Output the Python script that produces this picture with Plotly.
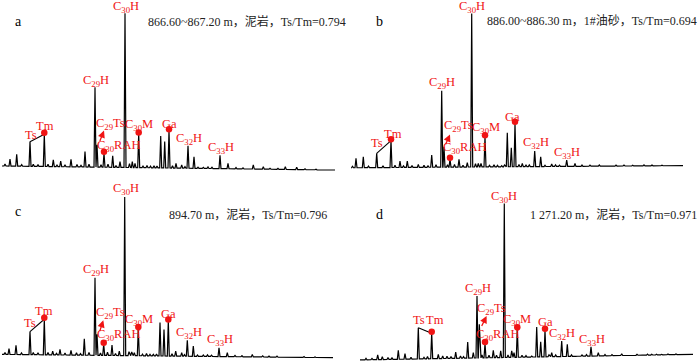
import plotly.graph_objects as go

# ---------------- data (relative retention, relative intensity % of C30H) ----------------
A_RT = [10.0, 16.7, 30.0, 33.3, 44.3, 53.3, 60.7, 71.0, 85.0, 95.0, 97.0, 104.0, 112.7, 120.0, 125.0, 132.3,
        135.0, 138.7, 154.0, 160.7, 164.7, 169.0, 176.0, 181.7, 188.0, 194.0, 203.3, 220.0, 228.0, 253.3,
        263.3, 285.3, 296.7]
A_INT = [6.0, 9.0, 17.2, 2.6, 21.9, 5.4, 4.7, 5.8, 10.8, 52.3, 15.1, 9.7, 8.0, 4.3, 100, 4.3,
         3.2, 22.2, 1.7, 20.9, 17.2, 24.3, 3.2, 2.2, 14.6, 7.5, 0.6, 8.4, 3.2, 2.2,
         1.1, 1.1, 0.6]
# minor baseline peaks (rt, height above baseline)
A_MIN_RT = [5.0, 21.7, 38.0, 48.0, 57.0, 65.0, 77.0, 81.0, 89.0, 101.0, 108.0, 116.0, 129.5, 143.0, 147.0,
            150.5, 157.0, 172.5, 185.0, 198.0, 208.0, 212.0, 236.0, 243.0, 270.0, 278.0, 305.0, 316.0, 326.0]
A_MIN_H = [1.2, 1.0, 1.3, 1.5, 1.0, 1.2, 1.5, 1.0, 1.8, 1.5, 2.0, 1.2, 2.5, 1.0, 1.5,
           1.0, 1.2, 1.5, 1.0, 0.8, 1.0, 0.8, 0.8, 0.7, 0.6, 0.6, 0.5, 0.4, 0.4]

B_RT = [6.0, 13.3, 26.7, 41.0, 50.0, 57.3, 68.3, 81.7, 91.7, 94.0, 100.0, 109.0, 117.3, 121.7, 128.3, 131.0,
        135.0, 151.7, 157.3, 161.3, 165.0, 172.3, 179.3, 184.7, 190.7, 201.7, 216.7, 225.0, 249.3, 260.0,
        282.7, 294.0]
B_INT = [5.4, 6.5, 8.7, 17.0, 3.7, 3.7, 1.5, 7.6, 49.6, 13.0, 4.8, 4.8, 2.6, 100, 2.2, 2.2,
         19.6, 0.7, 22.2, 12.4, 28.3, 2.2, 1.1, 10.2, 6.5, 1.7, 4.3, 2.2, 1.1, 0.4,
         1.0, 1.2]
B_MIN_RT = [2.5, 18.5, 33.0, 45.0, 53.5, 62.0, 74.0, 78.0, 86.0, 97.5, 104.5, 113.0, 125.5, 139.5, 144.0,
            147.5, 154.5, 169.0, 176.0, 195.0, 205.5, 209.5, 232.0, 240.0, 266.0, 274.0, 302.0, 312.0, 322.0]
B_MIN_H = [1.0, 1.0, 1.2, 1.4, 1.0, 1.2, 1.4, 1.0, 1.6, 1.5, 1.8, 1.2, 2.2, 1.0, 1.4,
           1.0, 1.2, 1.4, 1.0, 0.8, 1.0, 0.8, 0.8, 0.7, 0.6, 0.6, 0.5, 0.4, 0.4]

C_RT = [9.0, 16.0, 30.0, 33.3, 44.3, 52.7, 60.0, 71.0, 84.3, 95.0, 97.0, 103.7, 112.0, 119.3, 124.7, 131.7,
        134.3, 138.3, 153.3, 160.0, 164.0, 168.3, 175.7, 181.7, 187.3, 193.3, 203.3, 219.0, 227.3, 252.3,
        262.7, 285.0, 296.7]
C_INT = [4.0, 6.1, 14.8, 1.5, 22.6, 2.5, 3.6, 3.0, 10.3, 48.9, 13.1, 6.8, 6.3, 2.5, 100, 1.9,
         1.5, 16.7, 0.4, 20.5, 16.2, 21.5, 2.5, 1.5, 9.3, 5.7, 0.0, 4.6, 1.5, 0.4,
         -0.6, -1.1, -1.1]
C_MIN_RT = [5.0, 21.5, 38.0, 48.0, 56.5, 65.0, 76.5, 80.5, 89.0, 100.5, 107.5, 115.5, 129.0, 142.5, 146.5,
            150.0, 156.5, 172.0, 184.5, 197.5, 207.5, 211.5, 235.0, 242.0, 269.0, 277.0, 304.0, 315.0, 325.0]
C_MIN_H = [1.2, 1.0, 1.3, 1.5, 1.0, 1.2, 1.5, 1.0, 1.8, 1.5, 2.0, 1.2, 2.5, 1.0, 1.5,
           1.0, 1.2, 1.5, 1.0, 0.8, 1.0, 0.8, 0.8, 0.7, 0.6, 0.6, 0.5, 0.4, 0.4]

D_RT = [27.7, 32.3, 48.3, 55.0, 68.3, 81.7, 88.3, 92.7, 105.7, 117.7, 123.3, 127.0, 129.3, 135.0, 143.3, 150.7,
        154.3, 161.7, 164.0, 167.3, 181.7, 186.7, 190.7, 195.0, 201.7, 205.7, 211.7, 217.3, 226.7, 241.0,
        248.3, 271.7, 281.0, 293.3, 301.7, 311.7]
D_INT = [2.8, 1.7, 5.8, 3.6, 20.3, 16.7, 3.2, 2.1, 4.7, 11.1, 4.3, 40.7, 22.5, 10.1, 5.8, 5.4,
         100, 5.4, 4.3, 19.7, 2.1, 20.8, 11.3, 18.6, 4.3, 2.8, 11.8, 9.6, 2.1, 8.1,
         4.3, 3.6, 2.8, 2.6, 3.2, 3.2]
D_MIN_RT = [16.0, 22.0, 38.0, 42.0, 61.0, 74.0, 77.5, 97.0, 101.0, 110.5, 113.5, 132.0, 139.0, 146.5, 158.0,
            172.0, 176.0, 199.0, 221.5, 232.0, 236.5, 255.0, 262.0, 287.0, 297.5, 306.5, 318.0, 326.0, 335.0]
D_MIN_H = [1.0, 0.8, 1.2, 1.0, 1.2, 1.0, 1.4, 1.5, 1.2, 1.4, 1.0, 1.8, 1.6, 1.5, 1.5,
           1.2, 1.0, 1.2, 1.0, 0.8, 1.0, 0.8, 0.7, 0.6, 0.6, 0.5, 0.5, 0.4, 0.4]

# baseline (start rt, end rt, start level, end level)
A_BASE = [2.0, 335.0, 1.5, -1.1]
B_BASE = [2.0, 333.0, -0.7, 0.7]
C_BASE = [2.0, 333.0, 0.4, -1.7]
D_BASE = [10.0, 343.0, -0.4, 3.2]

PANEL_LETTERS = ["a", "b", "c", "d"]
PANEL_INFO = ["866.60~867.20 m，泥岩，Ts/Tm=0.794",
              "886.00~886.30 m，1#油砂，Ts/Tm=0.694",
              "894.70 m，泥岩，Ts/Tm=0.796",
              "1 271.20 m，泥岩，Ts/Tm=0.971"]

COMPOUNDS = ["Ts", "Tm", "C29H", "C29Ts", "C30RAH", "C30H", "C30M", "Ga", "C32H", "C33H"]
LABEL_TEXT = {"Ts": "Ts", "Tm": "Tm", "C29H": "C<sub>29</sub>H", "C29Ts": "C<sub>29</sub>Ts",
              "C30RAH": "C<sub>30</sub>RAH", "C30H": "C<sub>30</sub>H", "C30M": "C<sub>30</sub>M",
              "Ga": "Ga", "C32H": "C<sub>32</sub>H", "C33H": "C<sub>33</sub>H"}
# index of each identified compound in each panel's peak list
A_IDX = [2, 4, 9, 10, 11, 14, 17, 21, 24, 27]
B_IDX = [2, 3, 8, 9, 10, 13, 16, 20, 23, 26]
C_IDX = [2, 4, 9, 10, 11, 14, 17, 21, 24, 27]
D_IDX = [4, 5, 11, 12, 13, 16, 19, 23, 26, 29]

# ---------------- layout / style constants ----------------
W, H = 700, 362
CELL_W, CELL_H = 350, 181
RED = "#f01414"
SERIF = "Liberation Serif, Times New Roman, serif"
CJK = "Liberation Serif, Noto Sans CJK SC, serif"

# (baseline pixel in cell, pixels per intensity unit)
GEOM = [(168.3, 1.55), (166.7, 1.533), (174.0, 1.58), (178.3, 1.557)]
# label offsets (dx, dy) in px, per panel, in COMPOUNDS order
OFFS = [
    [(1, 6.7), (0.7, 8.3), (1, 6.3), (13, 20.7), (15.3, 7.7), (1, 6.0), (0.7, 8.7), (0.3, 6.7), (1, 7.0), (0.7, 7.7)],
    [(0.7, 10.7), (2.3, 6.3), (0, 7.3), (14.3, 20.7), (15, 11.7), (0.7, 6.5), (1, 9.0), (-2.7, 6.7), (1, 8.3), (0.7, 7.3)],
    [(0, 9.0), (0, 8.3), (1, 7.3), (13, 21.0), (15.7, 9.3), (1.3, 7.7), (1, 9.0), (0.3, 6.7), (1.3, 7.3), (1, 7.3)],
    [(0.7, 7.3), (3.2, 13.0), (0.7, 7.3), (11.7, 15.7), (13.3, 8.7), (0, 6.7), (0, 9.0), (0, 8.3), (0.7, 6.7), (0.7, 6.3)],
]
# arrow (tail dx, tail dy, head dx, head dy) in px from C29Ts apex
ARROWS = [(2.3, 2.3, 7, 14.3), (1, 1, 6, 12.3), (2.3, 1.7, 6.3, 14), (1.7, -3.3, 7.3, 8.3)]
# cell origins (px) and text positions (px, global)
ORIG = [(0, 0), (350, 0), (0, 181), (350, 181)]
LETTER_POS = [(18, 21), (380, 21.7), (18.3, 211.7), (379.3, 214.3)]
INFO_POS = [(348, 21), (699, 21), (329, 214.3), (699, 214)]

PANELS = [(A_RT, A_INT, A_MIN_RT, A_MIN_H, A_BASE, A_IDX),
          (B_RT, B_INT, B_MIN_RT, B_MIN_H, B_BASE, B_IDX),
          (C_RT, C_INT, C_MIN_RT, C_MIN_H, C_BASE, C_IDX),
          (D_RT, D_INT, D_MIN_RT, D_MIN_H, D_BASE, D_IDX)]

fig = go.Figure()
annotations = []
HW = 1.0

for p, (rt, inten, mrt, mh, base, idx) in enumerate(PANELS):
    ax_n = "" if p == 0 else str(p + 1)
    xr, yr = "x" + ax_n, "y" + ax_n
    x0, x1, b0, b1 = base

    def bl(x):
        return b0 + (b1 - b0) * (x - x0) / (x1 - x0)

    apexes = list(zip(rt, inten)) + [(x, bl(x) + h) for x, h in zip(mrt, mh)]
    apexes.sort(key=lambda t: t[0])
    px, py = [x0], [b0]
    for x, y in apexes:
        px += [x - HW, x, x + HW]
        py += [bl(x - HW), y, bl(x + HW)]
    px.append(x1)
    py.append(b1)
    fig.add_trace(go.Scatter(x=px, y=py, mode="lines", line=dict(color="black", width=1.2),
                             xaxis=xr, yaxis=yr, showlegend=False, hoverinfo="skip"))

    base_px, k = GEOM[p]
    # Ts - Tm connector
    its, itm = idx[0], idx[1]
    fig.add_trace(go.Scatter(x=[rt[its], rt[itm]], y=[inten[its], inten[itm]], mode="lines",
                             line=dict(color="black", width=1.1), xaxis=xr, yaxis=yr,
                             showlegend=False, hoverinfo="skip"))
    # red dots
    dot_ids = [idx[1], idx[4], idx[6], idx[7]]
    fig.add_trace(go.Scatter(x=[rt[i] for i in dot_ids], y=[inten[i] + 1.5 / k for i in dot_ids],
                             mode="markers", marker=dict(color=RED, size=6.5),
                             xaxis=xr, yaxis=yr, showlegend=False, hoverinfo="skip"))
    # labels
    for c, (name, i) in enumerate(zip(COMPOUNDS, idx)):
        dx, dy = OFFS[p][c]
        annotations.append(dict(x=rt[i], y=inten[i], xref=xr, yref=yr, text=LABEL_TEXT[name],
                                showarrow=False, xanchor="center", yanchor="middle",
                                xshift=dx, yshift=dy, font=dict(family=SERIF, size=12.5, color=RED)))
    # arrow to C29Ts
    tdx, tdy, hdx, hdy = ARROWS[p]
    ic = idx[3]
    annotations.append(dict(x=rt[ic], y=inten[ic], xref=xr, yref=yr, text="", showarrow=True,
                            xshift=hdx, yshift=hdy, ax=tdx - hdx, ay=-(tdy - hdy),
                            arrowhead=2, arrowsize=1.1, arrowwidth=1.3, arrowcolor=RED, standoff=0))
    # panel letter and info text
    lx, ly = LETTER_POS[p]
    annotations.append(dict(x=lx / W, y=1 - ly / H, xref="paper", yref="paper", text=PANEL_LETTERS[p],
                            showarrow=False, xanchor="center", yanchor="middle",
                            font=dict(family=SERIF, size=14, color="black")))
    ix, iy = INFO_POS[p]
    annotations.append(dict(x=ix / W, y=1 - iy / H, xref="paper", yref="paper", text=PANEL_INFO[p],
                            showarrow=False, xanchor="right", yanchor="middle",
                            font=dict(family=CJK, size=12, color="#222222")))

    ox, oy = ORIG[p]
    xdom = [ox / W, (ox + CELL_W) / W]
    ydom = [1 - (oy + CELL_H) / H, 1 - oy / H]
    yrange = [-(CELL_H - base_px) / k, base_px / k]
    axstyle = dict(visible=False, showgrid=False, zeroline=False, fixedrange=True)
    fig.update_layout(**{
        "xaxis" + ax_n: dict(domain=xdom, range=[0, CELL_W], anchor=yr, **axstyle),
        "yaxis" + ax_n: dict(domain=ydom, range=yrange, anchor=xr, **axstyle),
    })

fig.update_layout(width=W, height=H, margin=dict(l=0, r=0, t=0, b=0),
                  paper_bgcolor="white", plot_bgcolor="white", annotations=annotations,
                  showlegend=False)
fig.write_html("out.html", config={"displayModeBar": False},
               post_script="document.body.style.margin='0';document.body.style.overflow='hidden';")
